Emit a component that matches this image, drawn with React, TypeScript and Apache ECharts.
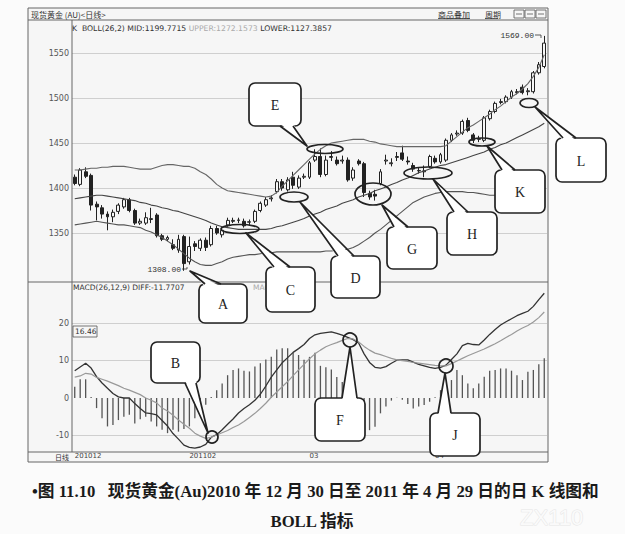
import React, { useEffect, useRef } from "react";
import * as echarts from "echarts";

// ---------- data ----------
const OPEN = [
  1412, 1404, 1418, 1414, 1382, 1378, 1371, 1368, 1374, 1379,
  1387, 1375, 1361, 1361, 1365, 1370, 1347, 1343, 1337, 1331,
  1346, 1318, 1338, 1333, 1342, 1337, 1355, 1348, 1359, 1363,
  1364, 1363, 1362, 1363, 1375, 1381, 1388, 1396, 1407, 1398,
  1412, 1401, 1412, 1412, 1431, 1435, 1415, 1434, 1431, 1430,
  1431, 1411, 1430, 1427, 1394, 1393, 1405, 1430, 1427, 1434,
  1439, 1430, 1425, 1419, 1418, 1424, 1433, 1429, 1431, 1453,
  1460, 1461, 1475, 1459, 1454, 1453, 1477, 1485, 1495, 1496,
  1501, 1506, 1512, 1507, 1507, 1528, 1535,
];
const CLOSE = [
  1405, 1420, 1413, 1381, 1379, 1371, 1368, 1373, 1381, 1387,
  1375, 1361, 1363, 1367, 1366, 1347, 1343, 1345, 1333, 1343,
  1316, 1335, 1335, 1342, 1334, 1355, 1350, 1353, 1364, 1364,
  1364.5, 1358, 1362.5, 1374, 1383, 1387, 1389, 1407, 1400, 1409,
  1403, 1411, 1413, 1428, 1435, 1415, 1431, 1435, 1427, 1431,
  1409, 1420, 1427, 1395, 1390, 1391, 1418, 1431, 1428, 1435,
  1432, 1429, 1421, 1419.5, 1419, 1435, 1429, 1437, 1453, 1459,
  1461, 1474, 1464, 1453, 1455, 1478, 1485, 1494, 1496, 1501,
  1507, 1507, 1506, 1508, 1528, 1537, 1561,
];
const LOW = [
  1403, 1402, 1411, 1375, 1364, 1366, 1353, 1362, 1371, 1377,
  1373, 1359, 1359, 1359, 1361, 1345, 1341, 1341, 1331, 1328,
  1308, 1315, 1330, 1330, 1330, 1335, 1348, 1345, 1357, 1361,
  1361, 1356, 1359, 1361, 1373, 1379, 1385, 1394, 1397, 1396,
  1399, 1399, 1410, 1410, 1429, 1412, 1413, 1430, 1425, 1427,
  1407, 1408, 1425, 1390, 1387, 1386, 1403, 1426, 1424, 1430,
  1430, 1426, 1418, 1416, 1412, 1422, 1427, 1427, 1429, 1451,
  1458, 1459, 1462, 1450, 1451, 1451, 1475, 1483, 1493, 1494,
  1499, 1504, 1504, 1503, 1505, 1526, 1533,
];
const HIGH = [
  1415, 1422, 1423, 1416, 1385, 1381, 1374, 1376, 1383, 1389,
  1389, 1377, 1366, 1373, 1378, 1372, 1349, 1347, 1343, 1348,
  1348, 1346, 1341, 1344, 1345, 1358, 1358, 1356, 1367, 1367,
  1367, 1366, 1365, 1376, 1385, 1390, 1392, 1410, 1410, 1412,
  1418, 1414, 1416, 1430, 1443, 1444, 1436, 1441, 1435, 1436,
  1434, 1423, 1432, 1429, 1397, 1398, 1421, 1437, 1433, 1440,
  1447, 1435, 1428, 1423, 1425, 1437, 1436, 1439, 1455, 1461,
  1464, 1476, 1478, 1461, 1458, 1480, 1487, 1496, 1499, 1503,
  1509, 1510, 1515, 1511, 1530, 1540, 1569,
];
const BOLL_UPPER = [
  1420, 1420, 1421, 1422, 1422, 1423, 1423, 1424, 1424, 1424,
  1423, 1422, 1421, 1421, 1421, 1423, 1425, 1426, 1426, 1425,
  1424, 1424, 1422, 1418, 1415, 1410, 1404, 1400, 1397, 1396,
  1395, 1394, 1393, 1392, 1391, 1390, 1391, 1395, 1402, 1408,
  1414, 1420, 1426, 1432, 1438, 1443, 1447, 1450, 1451, 1452,
  1453, 1454, 1454, 1454, 1452, 1451, 1449, 1448, 1447, 1446,
  1446, 1446, 1446, 1446, 1446, 1446, 1446, 1446, 1447, 1452,
  1457, 1462, 1467, 1470, 1474, 1478, 1482, 1487, 1491, 1496,
  1501, 1505, 1510, 1516, 1524, 1534, 1548,
];
const BOLL_MID = [
  1388, 1389, 1390, 1391, 1392, 1392, 1391, 1390, 1389, 1388,
  1387, 1386, 1384, 1383, 1381, 1380, 1378, 1377, 1375, 1374,
  1372, 1370, 1368, 1366, 1364, 1361, 1359, 1357, 1356, 1355,
  1354, 1354, 1354, 1354, 1354, 1354, 1355, 1357, 1358, 1360,
  1362, 1364, 1366, 1369, 1371, 1373, 1376, 1378, 1380, 1383,
  1385, 1387, 1390, 1392, 1394, 1397, 1399, 1401, 1404, 1406,
  1409, 1411, 1414, 1417, 1419, 1421, 1423, 1425, 1426, 1428,
  1430, 1432, 1434, 1436, 1438, 1440, 1443, 1445, 1448, 1450,
  1453, 1456, 1459, 1462, 1465, 1468, 1472,
];
const BOLL_LOWER = [
  1359, 1360, 1361, 1362, 1363, 1362, 1361, 1360, 1359, 1359,
  1358, 1357, 1356, 1353, 1351, 1348, 1345, 1341, 1337, 1332,
  1327, 1322, 1318, 1315, 1314, 1314, 1316, 1318, 1321, 1323,
  1324, 1325, 1326, 1326, 1327, 1328, 1328, 1329, 1329, 1329,
  1329, 1329, 1329, 1329, 1329, 1329, 1330, 1330, 1331, 1331,
  1332, 1334, 1337, 1341, 1345, 1350, 1354, 1359, 1364, 1369,
  1374, 1379, 1384, 1387, 1390, 1392, 1394, 1395, 1396, 1396,
  1396, 1396, 1395, 1395, 1394, 1393, 1392, 1392, 1391, 1391,
  1390, 1390, 1390, 1389, 1389, 1388, 1387,
];
const MACD_HIST = [
  3.0, 5.0, 5.0, 0.3, -2.7, -5.4, -7.6, -7.2, -5.9, -5.0,
  -4.5, -6.8, -5.7, -5.0, -6.3, -7.6, -8.5, -9.4, -8.5, -9.0,
  -8.3, -7.6, -5.4, -2.5, -1.8, 0.3, 2.1, 3.9, 6.1, 7.5,
  7.9, 7.3, 7.1, 8.4, 9.3, 10.3, 11.0, 13.0, 13.3, 13.3,
  12.0, 11.5, 10.2, 11.0, 12.1, 8.6, 8.2, 7.6, 5.6, 4.3,
  1.5, 0.2, -2.3, -5.9, -8.6, -7.7, -4.1, -2.3, -0.7, 0.1,
  -0.5, -1.6, -2.8, -2.3, -1.9, -1.0, 0.2, 2.1, 3.5, 4.8,
  7.5, 6.1, 3.9, 2.6, 3.9, 5.7, 7.3, 7.5, 7.9, 7.9,
  7.3, 6.1, 4.8, 7.0, 7.5, 9.0, 10.6,
];
const MACD_DIFF = [
  7.3, 8.3, 9.3, 8.0, 5.7, 4.0, 2.6, 1.2, 0.3, 0.0,
  0.0, -1.5, -2.8, -4.0, -4.2, -4.5, -6.0, -7.5, -9.5, -11.0,
  -12.6, -13.2, -13.4, -13.1, -12.4, -10.5, -9.8, -8.5, -7.0, -5.6,
  -4.0, -2.8, -1.8, -0.6, 1.0, 3.2, 5.6, 7.5, 9.4, 10.8,
  12.2, 13.2, 14.3, 15.9, 16.9, 17.3, 17.5, 17.7, 17.3, 16.8,
  16.2, 15.6, 14.7, 11.8, 9.5, 8.2, 8.0, 8.4, 9.3, 10.1,
  10.2, 10.2, 9.6, 9.0, 8.6, 8.2, 7.9, 8.2, 8.8, 10.3,
  11.8, 14.0, 14.6, 14.3, 14.2, 15.5, 17.0, 18.3, 19.5, 20.4,
  21.2, 22.0, 22.6, 23.2, 24.5, 26.3, 28.0,
];
const MACD_DEA = [
  5.6, 5.9, 6.6, 6.4, 5.5, 5.0, 4.5, 3.9, 3.3, 2.6,
  2.1, 1.5, 0.9, 0.0, -0.6, -1.3, -2.7, -3.5, -4.6, -5.9,
  -7.0, -8.1, -9.4, -10.2, -10.8, -10.5, -9.9, -9.3, -8.7, -7.9,
  -7.2, -6.3, -5.2, -4.1, -2.8, -1.4, 0.2, 1.6, 3.0, 4.4,
  6.0, 7.5, 9.0, 10.5, 11.8, 12.8, 13.7, 14.3, 14.8, 15.4,
  15.9, 15.8, 15.0, 13.8, 12.8, 12.0, 11.6, 11.1, 10.6, 10.2,
  10.0, 9.8, 9.5, 9.3, 9.1, 8.9, 8.7, 8.6, 8.6, 9.2,
  9.9, 10.6, 11.3, 11.9, 12.5, 13.1, 13.8, 14.5, 15.3, 16.2,
  17.0, 17.9, 18.7, 19.4, 20.3, 21.5, 23.0,
];
const PRICE_AXIS = { min: 1300, max: 1550, step: 50 };
const MACD_AXIS = { min: -10, max: 20, step: 10 };
const MONTH_TICKS: [number, string][] = [
  [0, "201012"],
  [21, "201102"],
  [43, "03"],
  [66, "04"],
];

function tradingDays(start: string, end: string): string[] {
  const out: string[] = [];
  const d = new Date(start + "T00:00:00Z");
  const e = new Date(end + "T00:00:00Z");
  while (d <= e) {
    const w = d.getUTCDay();
    if (w !== 0 && w !== 6) out.push(d.toISOString().slice(0, 10));
    d.setUTCDate(d.getUTCDate() + 1);
  }
  return out;
}
const DATES = tradingDays("2010-12-30", "2011-04-29");

// ---------- annotations ----------
type Callout = {
  t: string;
  box: [number, number, number, number];
  tail: [number, number][];
  ellipse?: [number, number, number, number];
  circle?: [number, number, number];
};
const CALLOUTS: Callout[] = [
  { t: "A", box: [199, 284, 48, 39], tail: [[205, 284], [190, 271], [221, 284]] },
  { t: "B", box: [151, 342, 49, 41], tail: [[185, 383], [208, 433], [196, 383]], circle: [212, 437, 6] },
  { t: "C", box: [266, 267, 49, 45], tail: [[274, 267], [246, 233], [290, 267]], ellipse: [240, 229, 19, 4.5] },
  { t: "D", box: [331, 256, 49, 42], tail: [[338, 256], [300, 202], [354, 256]], ellipse: [294, 197, 14, 5] },
  { t: "E", box: [249, 83, 52, 43], tail: [[280, 126], [307, 146], [293, 126]], ellipse: [325, 149, 18, 4.5] },
  { t: "F", box: [315, 398, 50, 43], tail: [[342, 398], [350, 347], [357, 398]], circle: [350, 340, 7] },
  { t: "G", box: [387, 227, 50, 42], tail: [[394, 227], [382, 205], [408, 227]], ellipse: [373, 194, 18, 11] },
  { t: "H", box: [447, 212, 50, 43], tail: [[454, 212], [433, 179], [468, 212]], ellipse: [428, 173, 24, 6] },
  { t: "J", box: [430, 413, 50, 43], tail: [[438, 413], [445, 373], [451, 413]], circle: [446, 366, 7] },
  { t: "K", box: [495, 170, 50, 43], tail: [[502, 170], [487, 146], [515, 170]], ellipse: [482, 142, 13, 4] },
  { t: "L", box: [556, 138, 50, 44], tail: [[563, 138], [535, 107], [576, 138]], ellipse: [529, 103, 9, 4.5] },
];

const INK = "#222";
const SANS = '"DejaVu Sans", "Noto Sans CJK SC", sans-serif';
const CJK = '"Noto Sans CJK SC", sans-serif';
const SERIF = '"Liberation Serif", "Noto Sans CJK SC", serif';

function buildGraphics(): any[] {
  const g: any[] = [];
  const line = (x1: number, y1: number, x2: number, y2: number, c = "#666", w = 1, z = 1) =>
    g.push({ type: "line", z, silent: true, shape: { x1, y1, x2, y2 }, style: { stroke: c, lineWidth: w } });
  const text = (x: number, y: number, s: string, opt: any = {}, z = 3) =>
    g.push({
      type: "text",
      z,
      silent: true,
      x,
      y,
      style: { text: s, fontSize: 8, fontFamily: SANS, fill: "#333", verticalAlign: "middle", ...opt },
    });

  // frame
  g.push({ type: "rect", z: -10, silent: true, shape: { x: 28, y: 8, width: 520, height: 454 }, style: { fill: "#f6f6f6", stroke: "#666", lineWidth: 1 } });
  line(28, 20, 548, 20);
  line(72, 20, 72, 452);
  line(28, 282, 548, 282);
  line(28, 452, 548, 452);

  // header
  text(31, 14, "现货黄金 (AU)<日线>", { fontFamily: CJK, fontSize: 8 });
  text(438, 14, "商品叠加", { fontFamily: CJK, fontSize: 8 });
  line(438, 18.5, 470, 18.5, "#444", 0.8);
  text(485, 14, "周期", { fontFamily: CJK, fontSize: 8 });
  line(485, 18.5, 498, 18.5, "#444", 0.8);
  [514, 525, 536].forEach((bx) => {
    g.push({ type: "rect", z: 2, silent: true, shape: { x: bx, y: 10, width: 10, height: 8 }, style: { fill: "none", stroke: "#555", lineWidth: 0.8 } });
    line(bx + 2, 14, bx + 8, 14, "#555", 0.8, 2);
  });

  // indicator headers
  g.push({
    type: "text",
    z: 3,
    silent: true,
    x: 72,
    y: 28,
    style: {
      text: "{d|K  BOLL(26,2) MID:1199.7715 }{g|UPPER:1272.1573 }{d|LOWER:1127.3857}",
      verticalAlign: "middle",
      rich: {
        d: { fontSize: 7.7, fontFamily: SANS, fill: "#333" },
        g: { fontSize: 7.7, fontFamily: SANS, fill: "#aaa" },
      },
    },
  });
  text(73, 287, "MACD(26,12,9) DIFF:-11.7707", { fontSize: 7.5 });
  text(199, 287, "DEA", { fontSize: 7.5, fill: "#aaa" });
  text(253, 287, "MACD", { fontSize: 7.5, fill: "#aaa" });

  // current-value box
  g.push({ type: "rect", z: 3, silent: true, shape: { x: 73, y: 326, width: 24, height: 11 }, style: { fill: "#f6f6f6", stroke: "#555", lineWidth: 0.8 } });
  text(75, 331.5, "16.46", { fontSize: 7.5 });

  // date row left
  text(55, 456.5, "日线", { fontFamily: CJK, fontSize: 7 });

  // extreme labels
  const maxH = Math.max(...HIGH);
  const minL = Math.min(...LOW);
  text(534, 35, maxH.toFixed(2), { fontFamily: '"Liberation Mono", monospace', fontSize: 8, align: "right" });
  g.push({ type: "polyline", z: 3, silent: true, shape: { points: [[535, 35], [541, 35], [541, 38]] }, style: { stroke: "#333", lineWidth: 0.8, fill: "none" } });
  text(181, 269, minL.toFixed(2), { fontFamily: '"Liberation Mono", monospace', fontSize: 8, align: "right" });
  g.push({ type: "polyline", z: 3, silent: true, shape: { points: [[182, 269], [187, 269], [187, 267]] }, style: { stroke: "#333", lineWidth: 0.8, fill: "none" } });

  // callouts
  CALLOUTS.forEach((c, i) => {
    const [bx, by, bw, bh] = c.box;
    const z = 100 + i * 3;
    if (c.ellipse) {
      const [cx, cy, rx, ry] = c.ellipse;
      g.push({ type: "ellipse", z, silent: true, shape: { cx, cy, rx, ry }, style: { fill: "none", stroke: INK, lineWidth: 1.7 } });
    }
    if (c.circle) {
      const [cx, cy, r] = c.circle;
      g.push({ type: "circle", z, silent: true, shape: { cx, cy, r }, style: { fill: "none", stroke: INK, lineWidth: 1.7 } });
    }
    g.push({ type: "rect", z, silent: true, shape: { x: bx, y: by, width: bw, height: bh, r: 6 }, style: { fill: "#fff", stroke: INK, lineWidth: 1.7 } });
    const [p1, apex, p2] = c.tail;
    const dy = by + bh / 2 > p1[1] ? 2.5 : -2.5;
    g.push({ type: "polygon", z: z + 1, silent: true, shape: { points: [[p1[0], p1[1] + dy], apex, [p2[0], p2[1] + dy]] }, style: { fill: "#fff", stroke: "none" } });
    g.push({ type: "polyline", z: z + 2, silent: true, shape: { points: [p1, apex, p2] }, style: { fill: "none", stroke: INK, lineWidth: 1.7, lineJoin: "round" } });
    text(bx + bw / 2, by + bh / 2 + 1, c.t, { fontFamily: SERIF, fontSize: 14, fill: INK, align: "center" }, z + 2);
  });

  // caption
  text(32, 491, "•图 11.10   现货黄金(Au)2010 年 12 月 30 日至 2011 年 4 月 29 日的日 K 线图和", {
    fontFamily: SERIF,
    fontSize: 16.7,
    fontWeight: "bold",
    fill: "#1a1a1a",
  });
  text(312, 521, "BOLL 指标", { fontFamily: SERIF, fontSize: 16.7, fontWeight: "bold", fill: "#1a1a1a", align: "center" });
  text(520, 517, "ZX110", { fontFamily: '"Liberation Sans", sans-serif', fontSize: 22, fill: "#fafafa", stroke: "#e6e6e6", lineWidth: 1 });

  return g;
}

function buildOption(): any {
  const candles = OPEN.map((o, i) => [o, CLOSE[i], LOW[i], HIGH[i]]);
  const tickIdx = MONTH_TICKS.map((t) => t[0]);
  const axisLabelStyle = { fontSize: 8, fontFamily: SANS, color: "#555", margin: 3, formatter: (v: number) => String(v) };
  const hiddenX = {
    type: "category",
    data: DATES,
    boundaryGap: true,
    axisLine: { show: false },
    axisTick: { show: false },
    splitLine: { show: false },
  };
  return {
    animation: false,
    backgroundColor: "transparent",
    grid: [
      { left: 72, top: 53, width: 475, height: 225 },
      { left: 72, top: 323.2, width: 475, height: 112.2 },
    ],
    xAxis: [
      { ...hiddenX, gridIndex: 0, axisLabel: { show: false } },
      {
        ...hiddenX,
        gridIndex: 1,
        axisLabel: {
          show: true,
          interval: (index: number) => tickIdx.includes(index),
          formatter: (_v: string, index: number) => {
            const t = MONTH_TICKS.find((m) => m[0] === index);
            return t ? t[1] : "";
          },
          align: "left",
          margin: 17,
          fontSize: 7,
          fontFamily: SANS,
          color: "#444",
        },
      },
    ],
    yAxis: [
      {
        type: "value",
        gridIndex: 0,
        min: PRICE_AXIS.min,
        max: PRICE_AXIS.max,
        interval: PRICE_AXIS.step,
        axisLine: { show: false },
        axisTick: { show: false },
        axisLabel: { ...axisLabelStyle, showMinLabel: false },
        splitLine: { show: true, lineStyle: { color: ["rgba(0,0,0,0)", "#cfcfcf", "#cfcfcf", "#cfcfcf", "#cfcfcf", "#cfcfcf"], width: 1 } },
      },
      {
        type: "value",
        gridIndex: 1,
        min: MACD_AXIS.min,
        max: MACD_AXIS.max,
        interval: MACD_AXIS.step,
        axisLine: { show: false },
        axisTick: { show: false },
        axisLabel: axisLabelStyle,
        splitLine: { show: true, lineStyle: { color: ["#cfcfcf", "rgba(0,0,0,0)", "#cfcfcf", "#cfcfcf"], width: 1 } },
      },
    ],
    series: [
      {
        type: "candlestick",
        xAxisIndex: 0,
        yAxisIndex: 0,
        data: candles,
        barWidth: 3.4,
        clip: false,
        silent: true,
        itemStyle: { color: "#f6f6f6", color0: INK, borderColor: INK, borderColor0: INK, borderWidth: 1 },
      },
      { type: "line", xAxisIndex: 0, yAxisIndex: 0, data: BOLL_UPPER, symbol: "none", clip: false, silent: true, lineStyle: { color: "#666", width: 1.1 } },
      { type: "line", xAxisIndex: 0, yAxisIndex: 0, data: BOLL_MID, symbol: "none", clip: false, silent: true, lineStyle: { color: "#444", width: 1.1 } },
      { type: "line", xAxisIndex: 0, yAxisIndex: 0, data: BOLL_LOWER, symbol: "none", clip: false, silent: true, lineStyle: { color: "#555", width: 1.1 } },
      { type: "bar", xAxisIndex: 1, yAxisIndex: 1, data: MACD_HIST, barWidth: 1.3, silent: true, itemStyle: { color: "#555" } },
      { type: "line", xAxisIndex: 1, yAxisIndex: 1, data: MACD_DIFF, symbol: "none", clip: false, silent: true, lineStyle: { color: "#333", width: 1.3 } },
      { type: "line", xAxisIndex: 1, yAxisIndex: 1, data: MACD_DEA, symbol: "none", clip: false, silent: true, lineStyle: { color: "#999", width: 1.2 } },
    ],
    graphic: buildGraphics(),
  };
}

export default function App() {
  const ref = useRef<HTMLDivElement>(null);
  useEffect(() => {
    document.body.style.margin = "0";
    const chart = echarts.init(ref.current!, null, { renderer: "svg" });
    chart.setOption(buildOption());
    return () => chart.dispose();
  }, []);
  return <div ref={ref} style={{ width: 625, height: 534, background: "#fbfbfb" }} />;
}
